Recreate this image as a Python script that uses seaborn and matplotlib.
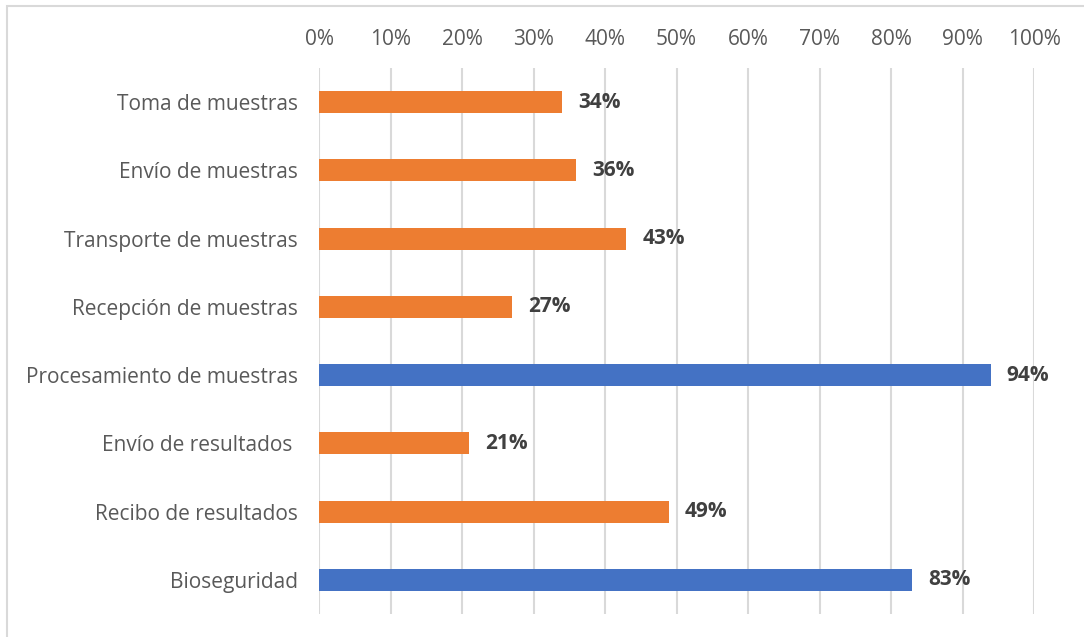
import matplotlib
matplotlib.use("Agg")
import matplotlib.pyplot as plt
from matplotlib.patches import Rectangle
from matplotlib.ticker import FuncFormatter, MultipleLocator
import seaborn as sns
import pandas as pd

# Stages of the sample workflow and their compliance share (%)
stages = [
    "Toma de muestras",
    "Envío de muestras",
    "Transporte de muestras",
    "Recepción de muestras",
    "Procesamiento de muestras",
    "Envío de resultados ",
    "Recibo de resultados",
    "Bioseguridad",
]
values = [34, 36, 43, 27, 94, 21, 49, 83]
groups = ["bajo", "bajo", "bajo", "bajo", "alto", "bajo", "bajo", "alto"]
group_colors = {"bajo": "#ED7D31", "alto": "#4472C4"}

df = pd.DataFrame({"etapa": stages, "valor": values, "grupo": groups})

sns.set_theme(style="white")
plt.rcParams["font.family"] = ["Open Sans", "DejaVu Sans"]

fig = plt.figure(figsize=(10.84, 6.37), dpi=100)
ax = fig.add_axes([0.2943, 0.0361, 0.6596, 0.8572])

sns.barplot(data=df, x="valor", y="etapa", hue="grupo", palette=group_colors,
            dodge=False, width=0.32, orient="h", legend=False, ax=ax,
            saturation=1, linewidth=0)

ax.set_xlim(0, 100)
ax.set_ylim(7.5, -0.5)
ax.xaxis.set_major_locator(MultipleLocator(10))
ax.xaxis.set_major_formatter(FuncFormatter(lambda v, _: f"{v:.0f}%"))
ax.xaxis.tick_top()
ax.grid(axis="x", color="#D9D9D9", linewidth=1.5)
ax.set_axisbelow(True)
for s in ax.spines.values():
    s.set_visible(False)
ax.set_xlabel("")
ax.set_ylabel("")
ax.tick_params(axis="x", length=0, pad=13, labelsize=15, colors="#595959")
ax.tick_params(axis="y", length=0, pad=15, labelsize=15, colors="#595959")

for i, v in enumerate(values):
    ax.text(v + 2.2, i, f"{v}%", va="center", ha="left", fontsize=15,
            fontweight="bold", color="#404040")

# light outer frame around the chart area
fig.patches.append(Rectangle((7 / 1084, -0.05), 1.2, 1 - 6 / 637 + 0.05,
                             transform=fig.transFigure, fill=False,
                             edgecolor="#D9D9D9", linewidth=1.5))

fig.savefig("out.png", dpi=100, facecolor="white")
